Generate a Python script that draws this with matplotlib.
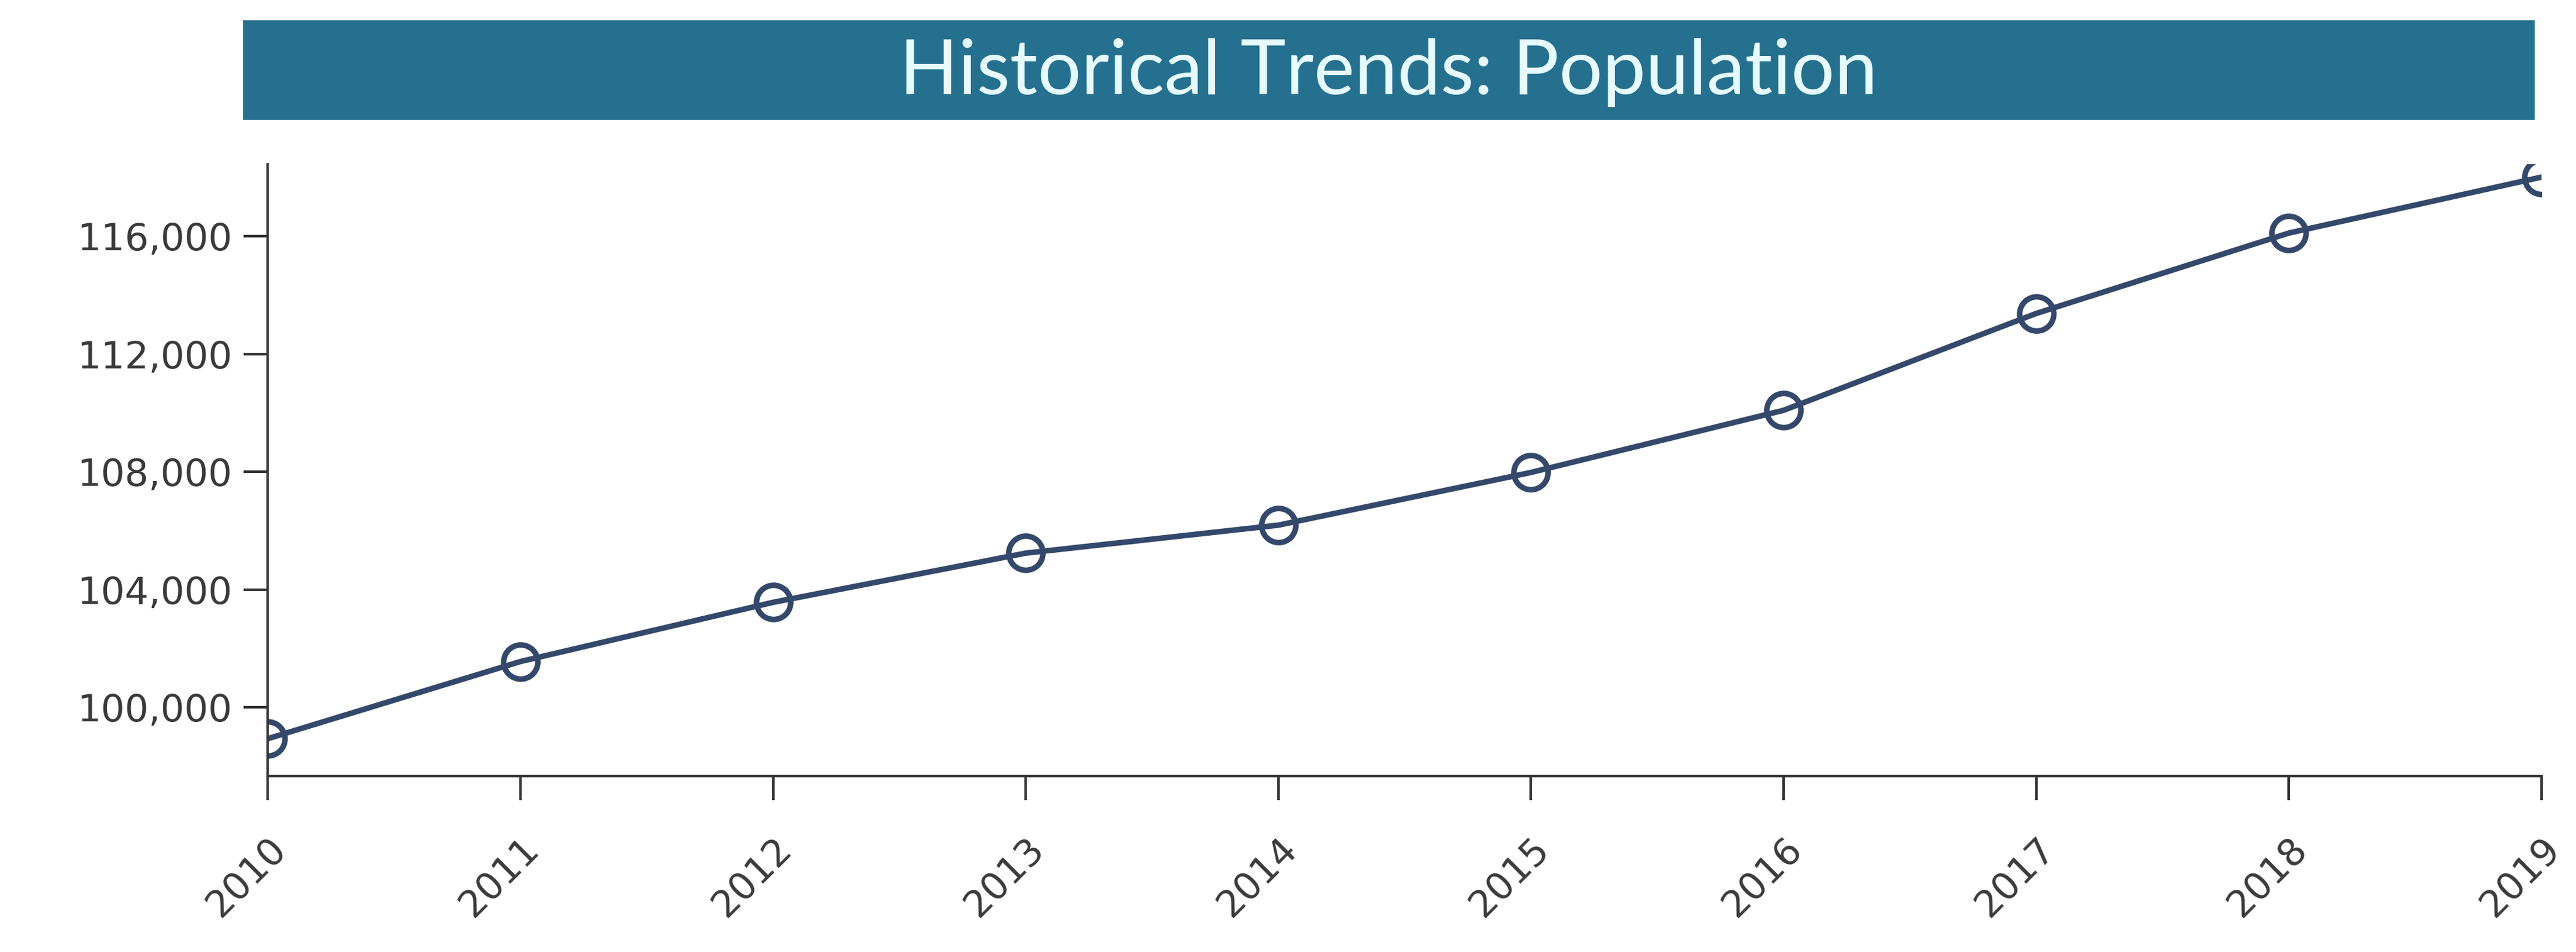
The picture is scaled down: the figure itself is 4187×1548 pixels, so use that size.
import matplotlib
matplotlib.use("Agg")
import matplotlib.pyplot as plt
from matplotlib.patches import Rectangle
from matplotlib.ticker import FuncFormatter

years = [2010, 2011, 2012, 2013, 2014, 2015, 2016, 2017, 2018, 2019]
population = [98940, 101560, 103570, 105240, 106190, 107980, 110090, 113380, 116110, 118010]
y_ticks = [100000, 104000, 108000, 112000, 116000]
title = "Historical Trends: Population"

plt.rcParams['font.family'] = ['Lato', 'DejaVu Sans']

fig = plt.figure(figsize=(41.87, 15.48), dpi=100)
fig.patch.set_facecolor("white")

# title banner
fig.patches.append(Rectangle((0.0944, 0.874), 0.8896, 0.105, transform=fig.transFigure,
                             facecolor="#25708f", edgecolor="none", zorder=0))
fig.text(0.539, 0.924, title, ha="center", va="center", fontsize=90,
         color="#e6fbff")

ax = fig.add_axes([0.104, 0.1845, 0.8826, 0.6431])
line_color = "#34486b"
ax.plot(years, population, color=line_color, linewidth=6.5, marker="o",
        markersize=40, markerfacecolor="none", markeredgecolor=line_color,
        markeredgewidth=6.5)

ax.set_xlim(2010, 2019)
ax.set_ylim(97660, 118450)
ax.set_xticks(years)
ax.set_xticklabels([str(y) for y in years], rotation=45, ha="right",
                   rotation_mode="anchor", family="DejaVu Sans")
ax.set_yticks(y_ticks)
ax.yaxis.set_major_formatter(FuncFormatter(lambda v, p: f"{int(v):,}"))
for lbl in ax.get_yticklabels():
    lbl.set_family("DejaVu Sans")

for s in ["top", "right"]:
    ax.spines[s].set_visible(False)
for s in ["left", "bottom"]:
    ax.spines[s].set_linewidth(3)
    ax.spines[s].set_color("#333333")
ax.tick_params(axis="both", length=28, width=3, color="#333333",
               labelsize=44, labelcolor="#3a3a3a")
ax.tick_params(axis="y", pad=14)
ax.tick_params(axis="x", pad=36)

fig.savefig("out.png", dpi=100)
